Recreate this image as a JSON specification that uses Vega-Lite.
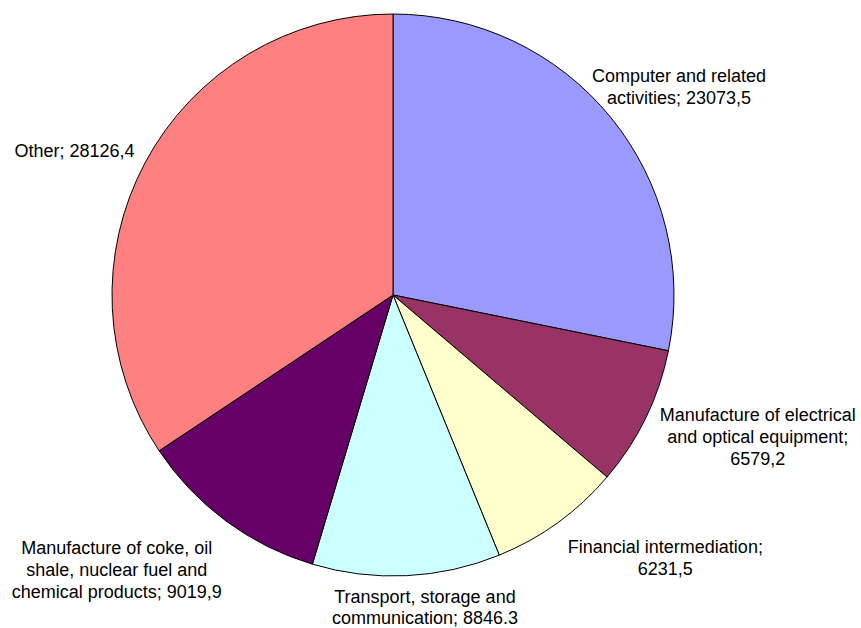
{
  "$schema": "https://vega.github.io/schema/vega-lite/v6.json",
  "width": 786,
  "height": 590,
  "autosize": {"type": "none"},
  "padding": {"left": 0, "top": 0, "right": 75, "bottom": 38},
  "background": "white",
  "view": {"stroke": null},
  "data": {
    "values": [
      {"idx": 1, "sector": "Computer and related activities", "value": 23073.5, "label": "Computer and related\nactivities; 23073,5"},
      {"idx": 2, "sector": "Manufacture of electrical and optical equipment", "value": 6579.2, "label": "Manufacture of electrical\nand optical equipment;\n6579,2"},
      {"idx": 3, "sector": "Financial intermediation", "value": 6231.5, "label": "Financial intermediation;\n6231,5"},
      {"idx": 4, "sector": "Transport, storage and communication", "value": 8846.3, "label": "Transport, storage and\ncommunication; 8846.3"},
      {"idx": 5, "sector": "Manufacture of coke, oil shale, nuclear fuel and chemical products", "value": 9019.9, "label": "Manufacture of coke, oil\nshale, nuclear fuel and\nchemical products; 9019,9"},
      {"idx": 6, "sector": "Other", "value": 28126.4, "label": "Other; 28126,4"}
    ]
  },
  "encoding": {
    "theta": {"field": "value", "type": "quantitative", "stack": true},
    "order": {"field": "idx", "type": "quantitative"}
  },
  "layer": [
    {
      "mark": {"type": "arc", "outerRadius": 281, "stroke": "black", "strokeWidth": 1},
      "encoding": {
        "color": {
          "field": "sector",
          "type": "nominal",
          "scale": {
            "domain": ["Computer and related activities", "Manufacture of electrical and optical equipment", "Financial intermediation", "Transport, storage and communication", "Manufacture of coke, oil shale, nuclear fuel and chemical products", "Other"],
            "range": ["#9999FF", "#993366", "#FFFFCC", "#CCFFFF", "#660066", "#FF8080"]
          },
          "legend": null
        }
      }
    },
    {
      "mark": {"type": "text", "radius": 350, "dx": 15, "dy": 4, "fontSize": 18, "font": "Liberation Sans", "lineBreak": "\n", "lineHeight": 22, "align": "center", "baseline": "middle", "color": "black"},
      "encoding": {"text": {"condition": {"test": "datum.idx == 1", "field": "label", "type": "nominal"}, "value": ""}}
    },
    {
      "mark": {"type": "text", "radius": 350, "dx": 50, "dy": -32, "fontSize": 18, "font": "Liberation Sans", "lineBreak": "\n", "lineHeight": 22, "align": "center", "baseline": "middle", "color": "black"},
      "encoding": {"text": {"condition": {"test": "datum.idx == 2", "field": "label", "type": "nominal"}, "value": ""}}
    },
    {
      "mark": {"type": "text", "radius": 350, "dx": 67, "dy": -30, "fontSize": 18, "font": "Liberation Sans", "lineBreak": "\n", "lineHeight": 22, "align": "center", "baseline": "middle", "color": "black"},
      "encoding": {"text": {"condition": {"test": "datum.idx == 3", "field": "label", "type": "nominal"}, "value": ""}}
    },
    {
      "mark": {"type": "text", "radius": 350, "dx": 15, "dy": -47, "fontSize": 18, "font": "Liberation Sans", "lineBreak": "\n", "lineHeight": 21, "align": "center", "baseline": "middle", "color": "black"},
      "encoding": {"text": {"condition": {"test": "datum.idx == 4", "field": "label", "type": "nominal"}, "value": ""}}
    },
    {
      "mark": {"type": "text", "radius": 350, "dx": -68, "dy": -27, "fontSize": 18, "font": "Liberation Sans", "lineBreak": "\n", "lineHeight": 22, "align": "center", "baseline": "middle", "color": "black"},
      "encoding": {"text": {"condition": {"test": "datum.idx == 5", "field": "label", "type": "nominal"}, "value": ""}}
    },
    {
      "mark": {"type": "text", "radius": 350, "dx": -10, "dy": 22, "fontSize": 18, "font": "Liberation Sans", "lineBreak": "\n", "lineHeight": 22, "align": "center", "baseline": "middle", "color": "black"},
      "encoding": {"text": {"condition": {"test": "datum.idx == 6", "field": "label", "type": "nominal"}, "value": ""}}
    }
  ]
}
